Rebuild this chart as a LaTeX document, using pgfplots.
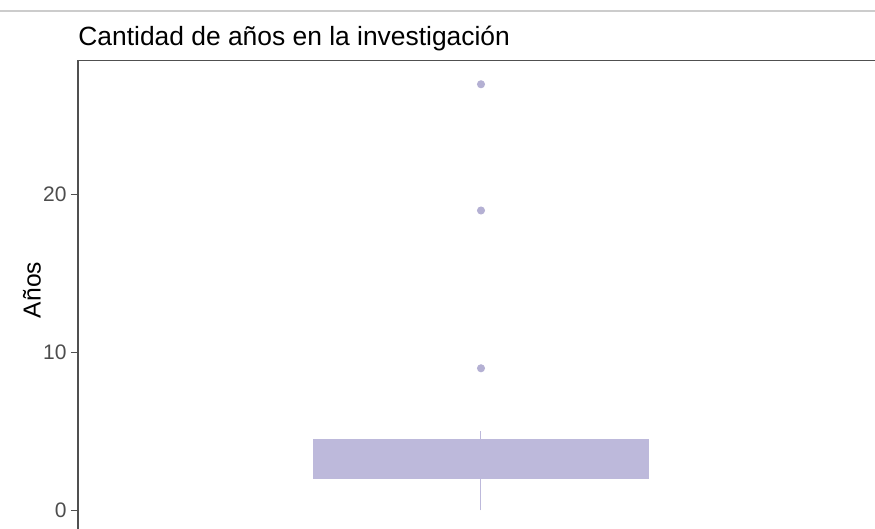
\documentclass[border=0pt]{standalone}
\usepackage{fontspec}
\setmainfont{Liberation Sans}
\usepackage{pgfplots}
\usepackage{pgfplotstable}
\pgfplotsset{compat=1.18}
\usepgfplotslibrary{statistics}
\definecolor{boxfill}{RGB}{189,185,219}
\definecolor{ptcol}{RGB}{180,176,211}
\definecolor{axgray}{RGB}{80,80,80}
\definecolor{labgray}{RGB}{77,77,77}
\pgfplotstableread{
y
27
19
9
}\outliers
\begin{document}
\begin{tikzpicture}
\useasboundingbox (0,0) rectangle (437.5pt,264.5pt);
\clip (0,0) rectangle (437.5pt,264.5pt);
\draw[color=black!20, line width=0.6pt] (0,259pt) -- (437.5pt,259pt);
\node[anchor=base west, inner sep=0pt, font=\fontsize{13.2pt}{15pt}\selectfont] at (39pt,241.5pt) {Cantidad de años en la investigación};
\node[rotate=90, inner sep=0pt, font=\fontsize{12.3pt}{14pt}\selectfont] at (16pt,119.5pt) {Años};
\begin{axis}[
  at={(39pt,-1.3pt)}, anchor=south west,
  width=403pt, height=235.5pt, scale only axis,
  xmin=0.4, xmax=1.6, ymin=-1.35, ymax=28.5,
  xtick=\empty,
  ytick={0,10,20},
  tick align=outside,
  major tick length=3.5pt,
  ytick pos=left,
  axis line style={color=axgray, line width=0.9pt},
  every tick/.style={color=axgray, line width=0.6pt},
  yticklabel style={font=\fontsize{10.5pt}{12pt}\selectfont, text=labgray, inner sep=0pt, anchor=east, xshift=-2pt},
  /pgf/number format/assume math mode=true,
  boxplot/draw direction=y,
]
\addplot+[
  boxplot prepared={
    draw position=1,
    lower whisker=0, lower quartile=2,
    median=3.2,
    upper quartile=4.5, upper whisker=5,
    box extend=0.5,
    whisker extend=0,
  },
  fill=boxfill, draw=boxfill, line width=0.5pt,
  mark=*, mark size=1.75pt,
  mark options={fill=ptcol, draw=ptcol},
] table[y=y] {\outliers};
\end{axis}
\end{tikzpicture}
\end{document}
